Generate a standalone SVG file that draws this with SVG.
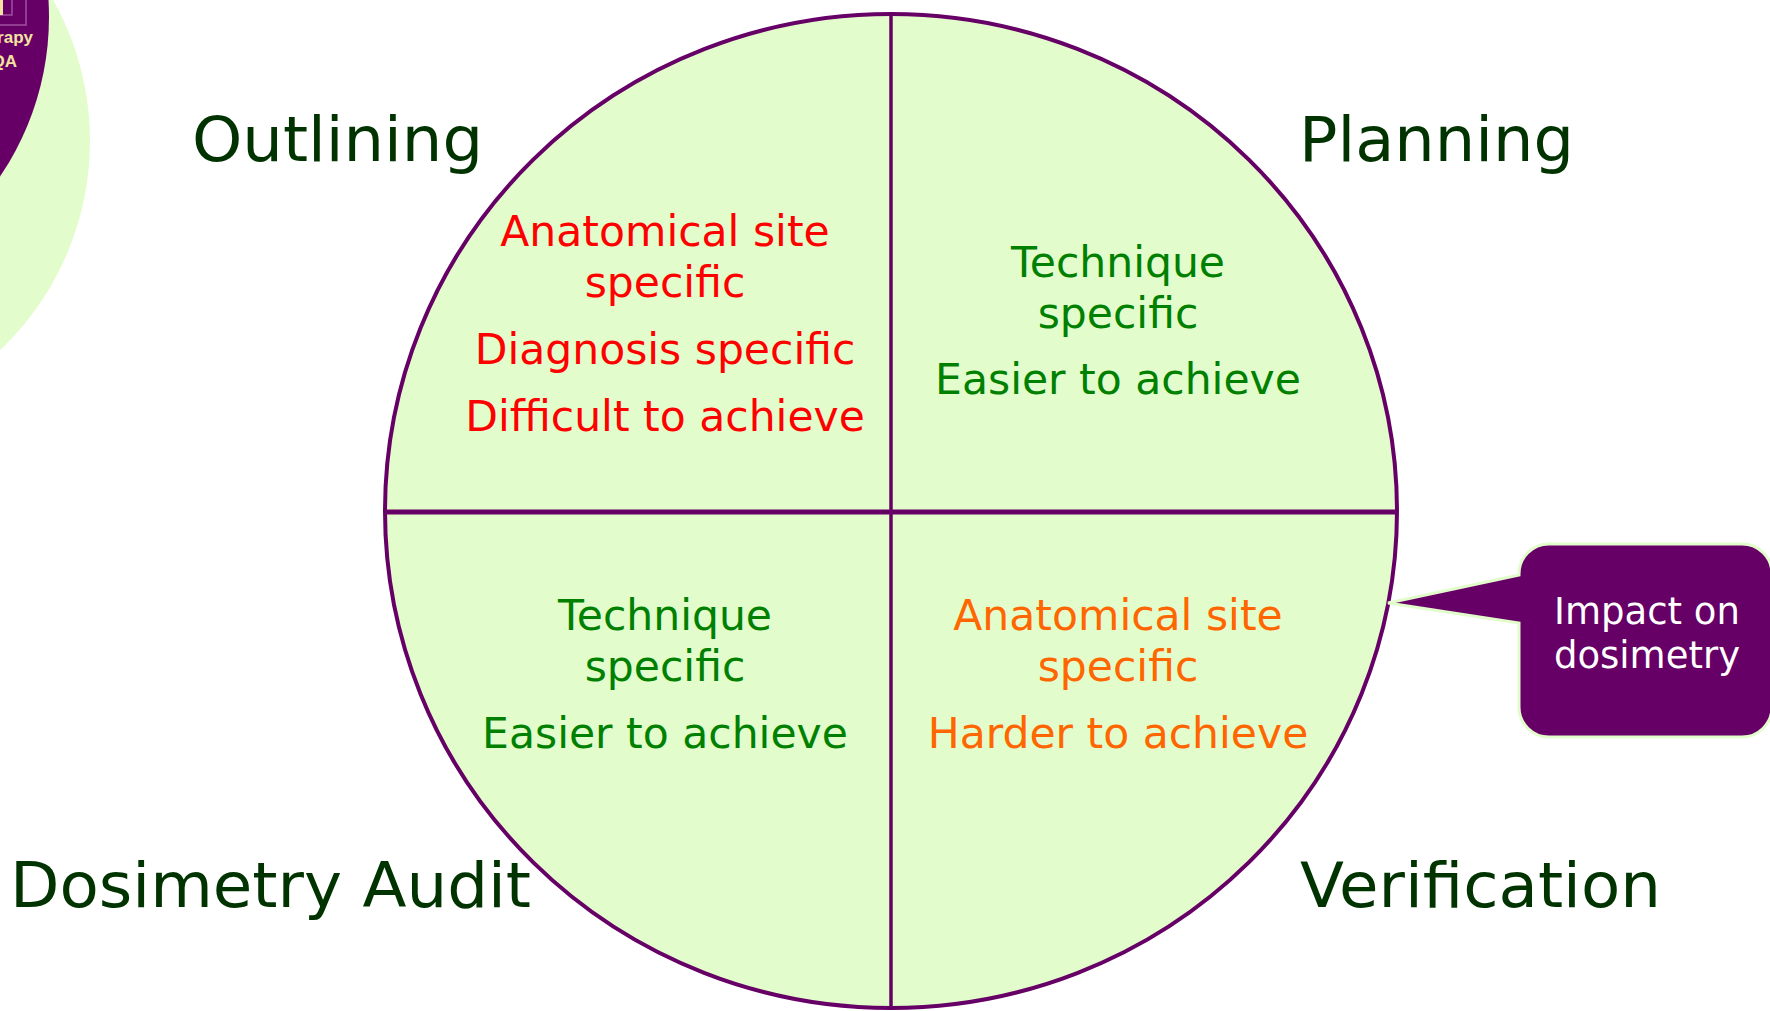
<svg xmlns="http://www.w3.org/2000/svg" width="1770" height="1011" viewBox="0 0 1770 1011">
<style>
  .f{font-family:"DejaVu Sans","Verdana",sans-serif}
  .head{font-size:62px;fill:#003300}
  .body{font-size:42.5px;text-anchor:middle}
  .red{fill:#FF0000}
  .grn{fill:#008000}
  .org{fill:#FF6600}
  .purple{stroke:#660066;fill:none}
  .logo{font-family:"Liberation Sans",Arial,sans-serif;font-weight:bold;font-size:17px;fill:#F2E3A0;text-anchor:end}
</style>
<rect width="1770" height="1011" fill="#FFFFFF"/>
<g id="logo">
  <circle cx="-198" cy="141" r="288" fill="#E2FDCB"/>
  <circle cx="-235" cy="17" r="284" fill="#660066"/>
  <path d="M26,-2 V25 H-2" fill="none" stroke="#A050A0" stroke-width="1.5"/>
  <path d="M12,-2 V15 H-2" fill="none" stroke="#A050A0" stroke-width="1.5"/>
  <rect x="0" y="0" width="3" height="15" fill="#F2E3A0"/>
  <text class="logo" x="33" y="43">rapy</text>
  <text class="logo" x="17" y="67">QA</text>
</g>
<g id="wheel">
  <ellipse cx="891" cy="511" rx="506" ry="497" fill="#E2FDCB" stroke="#660066" stroke-width="4"/>
</g>
<g id="connectors">
  <line class="purple" x1="891" y1="14" x2="891" y2="1008" stroke-width="3.5"/>
  <line class="purple" x1="386" y1="512" x2="1396" y2="512" stroke-width="5"/>
</g>
<g id="outlining">
  <text class="f head" x="192" y="161" textLength="291" lengthAdjust="spacingAndGlyphs">Outlining</text>
  <text class="f body red" x="665" y="246">Anatomical site</text>
  <text class="f body red" x="665" y="297">specific</text>
  <text class="f body red" x="665" y="364">Diagnosis specific</text>
  <text class="f body red" x="665" y="431">Difficult to achieve</text>
</g>
<g id="planning">
  <text class="f head" x="1299" y="161" textLength="275" lengthAdjust="spacingAndGlyphs">Planning</text>
  <text class="f body grn" x="1118" y="277">Technique</text>
  <text class="f body grn" x="1118" y="328">specific</text>
  <text class="f body grn" x="1118" y="394">Easier to achieve</text>
</g>
<g id="dosimetry-audit">
  <text class="f head" x="10" y="907" textLength="521" lengthAdjust="spacingAndGlyphs" font-size="63">Dosimetry Audit</text>
  <text class="f body grn" x="665" y="630">Technique</text>
  <text class="f body grn" x="665" y="681">specific</text>
  <text class="f body grn" x="665" y="748">Easier to achieve</text>
</g>
<g id="verification">
  <text class="f head" x="1300" y="907" textLength="361" lengthAdjust="spacingAndGlyphs">Verification</text>
  <text class="f body org" x="1118" y="630">Anatomical site</text>
  <text class="f body org" x="1118" y="681">specific</text>
  <text class="f body org" x="1118" y="748">Harder to achieve</text>
</g>
<g id="callout">
  <path d="M1549,544 H1742 A30,30 0 0 1 1772,574 V707 A30,30 0 0 1 1742,737 H1549 A30,30 0 0 1 1519,707 V623 L1388,603 L1519,575 V574 A30,30 0 0 1 1549,544 Z" fill="#660066" stroke="#E2FDCB" stroke-width="3"/>
  <text class="f" x="1647" y="624" font-size="37" fill="#FFFFFF" text-anchor="middle">Impact on</text>
  <text class="f" x="1647" y="668" font-size="37" fill="#FFFFFF" text-anchor="middle">dosimetry</text>
</g>
</svg>
